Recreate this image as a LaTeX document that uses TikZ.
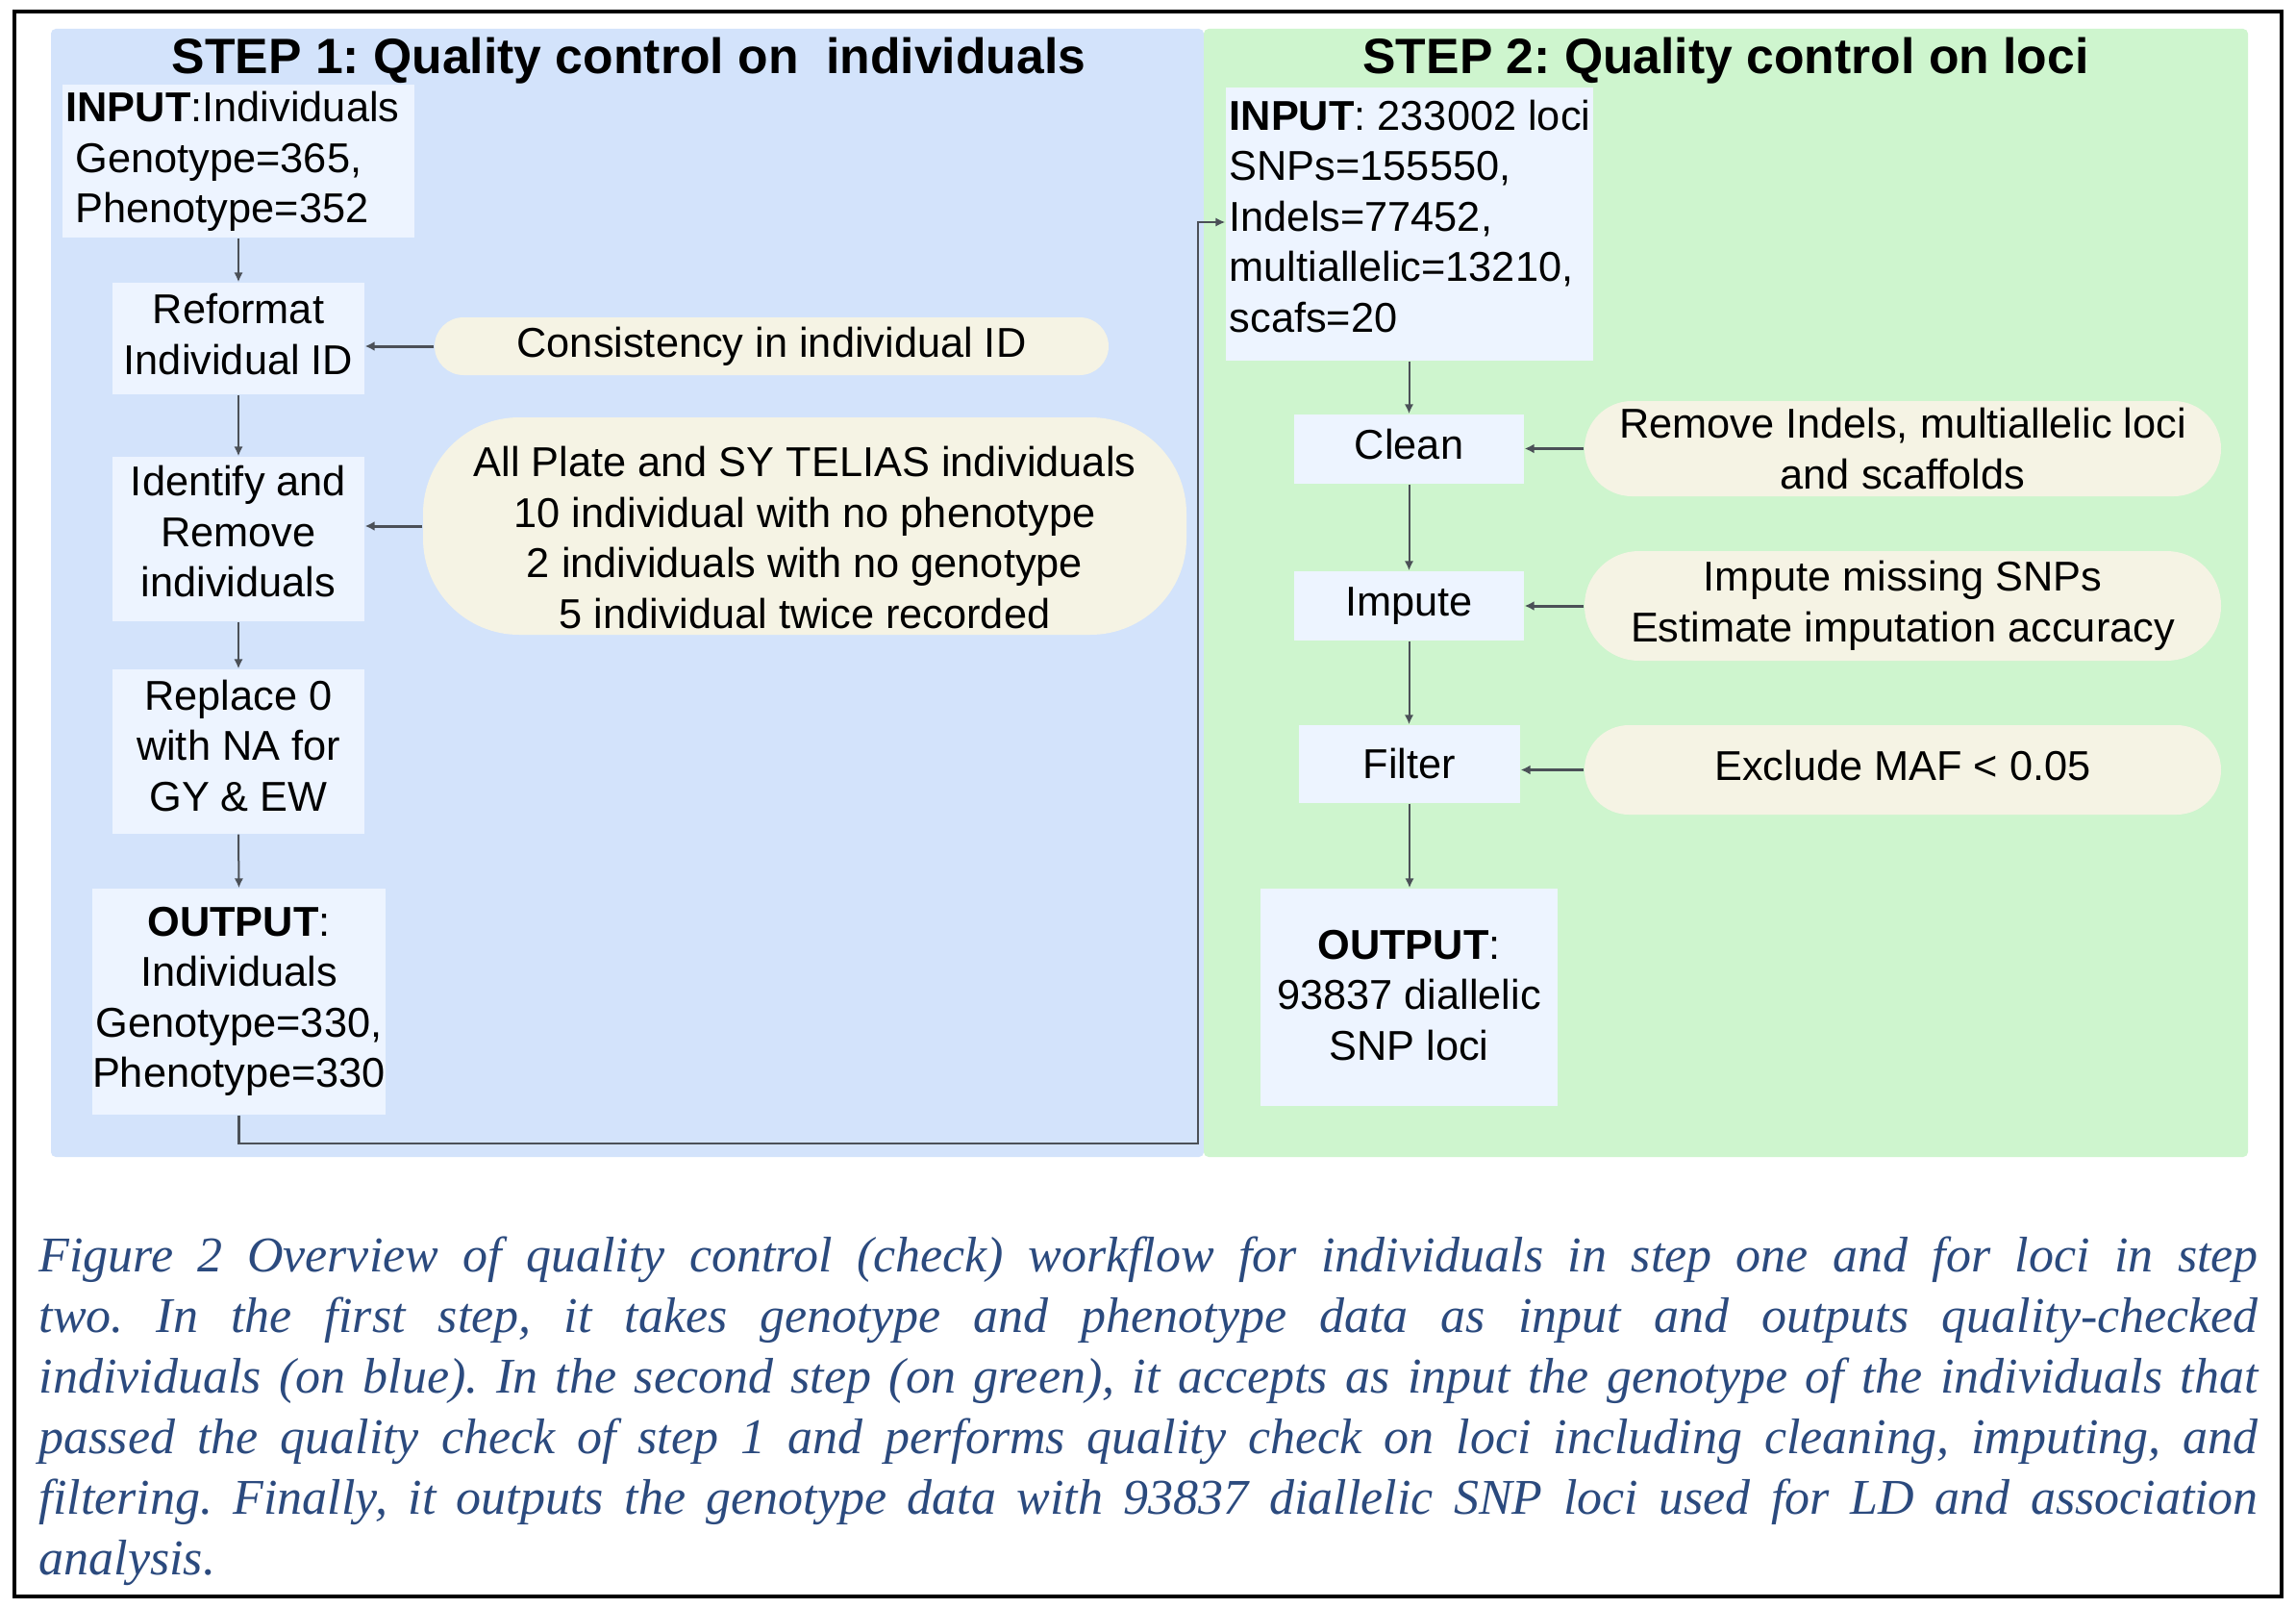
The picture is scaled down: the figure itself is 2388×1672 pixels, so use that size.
\documentclass[tikz,border=0pt]{standalone}
\usepackage{fontspec}
\setmainfont{Liberation Sans}
\newfontfamily\capfont{Liberation Serif}
\usetikzlibrary{arrows.meta,calc}
\definecolor{bluepanel}{HTML}{D3E3FB}
\definecolor{greenpanel}{HTML}{CEF5CE}
\definecolor{boxfill}{HTML}{EDF4FF}
\definecolor{pillfill}{HTML}{F5F3E4}
\definecolor{linecol}{HTML}{4B5057}
\definecolor{captioncol}{HTML}{2B4A7E}
\newcommand{\bodyfnt}{\fontsize{13}{15.75}\selectfont}
\newcommand{\titlefnt}{\fontsize{15.5}{18}\selectfont\bfseries}
\frenchspacing
\begin{document}
\begin{tikzpicture}[x=0.3pt,y=-0.3pt,
  box/.style={fill=boxfill, draw=none, inner sep=0pt, align=center, font=\bodyfnt},
  pill/.style={fill=pillfill, draw=none, inner sep=0pt, align=center, font=\bodyfnt},
  txt/.style={inner sep=0pt, font=\bodyfnt, align=center},
  flow/.style={draw=linecol, line width=0.6pt, -{Latex[length=3pt,width=2.8pt]}},
  side/.style={draw=linecol, line width=0.9pt, -{Latex[length=3pt,width=3pt]}},
]
\useasboundingbox (0,0) rectangle (2388,1672);
\fill[white] (0,0) rectangle (2388,1672);
% panels
\fill[bluepanel, rounded corners=1.5pt] (53,30) rectangle (1252,1203);
\fill[greenpanel, rounded corners=1.5pt] (1252,30) rectangle (2338,1203);
% outer frame
\draw[line width=1pt] (15,12) rectangle (2373,1660);

% titles
\node[inner sep=0pt, font=\titlefnt] (t1) at (654,63) {STEP 1: Quality control on \ individuals};
\node[inner sep=0pt, font=\titlefnt] (t2) at (1795,63) {STEP 2: Quality control on loci};

% step 1
\node[box, minimum width=109.8pt, minimum height=47.7pt] (in1) at (248,167.5) {};
\node[txt, anchor=west, align=left] (in1t) at (68,168)
  {\textbf{INPUT}:Individuals\\\hspace*{3pt}Genotype=365,\\\hspace*{3pt}Phenotype=352};
\node[box, minimum width=78.6pt, minimum height=34.8pt] (ref) at (248,352) {};
\node[txt, yshift=1.35pt] (reft) at (ref.center) {Reformat\\Individual ID};
\node[pill, minimum width=210.3pt, minimum height=18pt, rounded corners=9pt] (cons) at (802.5,360) {Consistency in individual ID};
\node[box, minimum width=78.6pt, minimum height=51.3pt] (idr) at (248,560.5) {};
\node[txt, yshift=2.3pt] (idrt) at (idr.center) {Identify and\\Remove\\individuals};
\node[pill, minimum width=238.2pt, minimum height=67.8pt, rounded corners=30pt] (big) at (837,547) {};
\node[txt, yshift=-3.6pt] (bigt) at (big.center)
  {All Plate and SY TELIAS individuals\\10 individual with no phenotype\\2 individuals with no genotype\\5 individual twice recorded};
\node[box, minimum width=78.6pt, minimum height=51.3pt] (rep) at (248,781.5) {};
\node[txt, yshift=1.8pt] (rept) at (rep.center) {Replace 0\\with NA for\\GY \& EW};
\node[box, minimum width=91.5pt, minimum height=70.5pt] (out1) at (248.5,1041.5)
  {\textbf{OUTPUT}:\\Individuals\\Genotype=330,\\Phenotype=330};

% step 2
\node[box, minimum width=114.6pt, minimum height=85.2pt] (in2) at (1466,233) {};
\node[txt, anchor=west, align=left] (in2t) at (1278,225)
  {\textbf{INPUT}: 233002 loci\\SNPs=155550,\\Indels=77452,\\multiallelic=13210,\\scafs=20};
\node[box, minimum width=71.7pt, minimum height=21.6pt] (clean) at (1465.5,467) {};
\node[txt, yshift=1.35pt] (cleant) at (clean.center) {Clean};
\node[pill, minimum width=198.6pt, minimum height=29.7pt, rounded corners=14.8pt] (p1) at (1979,466.5)
  {Remove Indels, multiallelic loci\\and scaffolds};
\node[box, minimum width=71.7pt, minimum height=21.6pt] (imp) at (1465.5,630) {Impute};
\node[pill, minimum width=198.6pt, minimum height=34.2pt, rounded corners=17pt] (p2) at (1979,630)
  {Impute missing SNPs\\Estimate imputation accuracy};
\node[box, minimum width=69pt, minimum height=24.3pt] (filt) at (1466,794.5) {Filter};
\node[pill, minimum width=198.6pt, minimum height=27.9pt, rounded corners=13.9pt] (p3) at (1979,800.5) {};
\node[txt, yshift=1.35pt] (p3t) at (p3.center) {Exclude MAF < 0.05};
\node[box, minimum width=92.7pt, minimum height=67.8pt] (out2) at (1465.5,1037) {};
\node[txt, yshift=0.7pt] (out2t) at (out2.center) {\textbf{OUTPUT}:\\93837 diallelic\\SNP loci};

% step 1 arrows
\draw[flow] (in1.south) -- (ref.north);
\draw[flow] (ref.south) -- (idr.north);
\draw[flow] (idr.south) -- (rep.north);
\draw[flow] (rep.south) -- (out1.north);
\draw[side] (cons.west) -- (cons.west -| ref.east);
\draw[side] (big.west) -- (big.west -| idr.east);

% connector step1 -> step2
\coordinate (c1) at (1246,1189);
\coordinate (c2) at (1246,231);
\draw[flow, line width=0.8pt] (out1.south) |- (c1) -- (c2) -- (c2 -| in2.west);

% step 2 arrows
\draw[flow] (in2.south -| clean.north) -- (clean.north);
\draw[flow] (clean.south) -- (imp.north);
\draw[flow] (imp.south) -- (imp.south |- filt.north);
\draw[flow] (filt.south) -- (filt.south |- out2.north);
\draw[side] (p1.west) -- (p1.west -| clean.east);
\draw[side] (p2.west) -- (p2.west -| imp.east);
\draw[side] (p3.west) -- (p3.west -| filt.east);

% caption
\node[anchor=north west, inner sep=0pt, text width=692.4pt, align=justify,
      font=\capfont\itshape\fontsize{15.6}{18.9}\selectfont, text=captioncol] (cap) at (40,1285)
  {Figure 2 Overview of quality control (check) workflow for individuals in step one and for loci in step\linebreak
   two. In the first step, it takes genotype and phenotype data as input and outputs quality-checked\linebreak
   individuals (on blue). In the second step (on green), it accepts as input the genotype of the individuals that\linebreak
   passed the quality check of step 1 and performs quality check on loci including cleaning, imputing, and\linebreak
   filtering. Finally, it outputs the genotype data with 93837 diallelic SNP loci used for LD and association\linebreak
   analysis.};
\end{tikzpicture}
\end{document}
